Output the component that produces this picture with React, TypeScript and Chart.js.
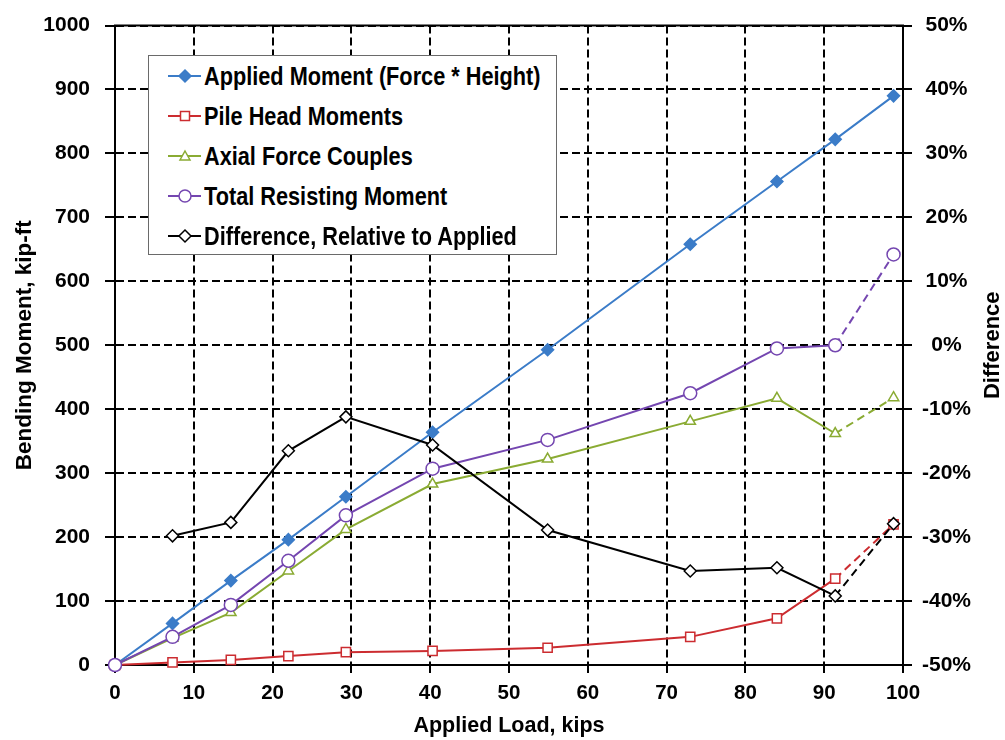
import React, { useEffect, useRef } from 'react';
import { Chart, registerables } from 'chart.js';

Chart.register(...registerables);

// ---------- data ----------
const loads = [0, 7.3, 14.7, 22.0, 29.3, 40.3, 54.9, 73.0, 84.0, 91.4, 98.8];
const appliedMoment = [0, 65, 132, 196, 263, 364, 493, 658, 756, 822, 890];
const pileHeadMoments = [0, 4, 8, 14, 20, 22, 27, 44, 73, 135, 220];
const axialForceCouples = [0, 42, 82, 147, 212, 283, 322, 381, 417, 362, 418];
const totalResisting = [0, 44, 94, 163, 234, 307, 352, 425, 495, 500, 642];
const differencePct = [null, -29.8, -27.7, -16.5, -11.2, -15.6, -28.9, -35.3, -34.8, -39.2, -27.9];

const seriesNames = [
  'Applied Moment (Force * Height)',
  'Pile Head Moments',
  'Axial Force Couples',
  'Total Resisting Moment',
  'Difference, Relative to Applied',
];
const xTitle = 'Applied Load, kips';
const yTitle = 'Bending Moment, kip-ft';
const y2Title = 'Difference';

// ---------- styles ----------
const FONT = "'Liberation Sans', Arial, sans-serif";
const seriesColors = ['#3b7cc8', '#cc2c30', '#8aab33', '#7446b0', '#000000'];
const seriesMarkers = ['rectRot', 'rect', 'triangle', 'circle', 'rectRot'];
const seriesFilled = [true, false, false, false, false];
const seriesRadius = [6, 6.5, 6, 6.5, 6];
const seriesDashedLast = [false, true, true, true, true];
const seriesAxis = ['y', 'y', 'y', 'y', 'y2'];
const seriesOrder = [5, 4, 3, 2, 1];

const seriesValues = [appliedMoment, pileHeadMoments, axialForceCouples, totalResisting, differencePct];

const framePlugin = {
  id: 'frameAndRightTitle',
  afterDraw(chart: any) {
    const { ctx, chartArea } = chart;
    ctx.save();
    ctx.strokeStyle = '#000';
    ctx.lineWidth = 2;
    ctx.beginPath();
    ctx.moveTo(chartArea.left - 1, chartArea.top);
    ctx.lineTo(chartArea.right + 1, chartArea.top);
    ctx.stroke();
    const s = chart.scales.y2;
    ctx.font = `bold 22px ${FONT}`;
    ctx.fillStyle = '#000';
    ctx.textAlign = 'center';
    ctx.textBaseline = 'middle';
    ctx.translate(s.right - 12, (chartArea.top + chartArea.bottom) / 2);
    ctx.rotate(-Math.PI / 2);
    ctx.fillText(y2Title, 0, 0);
    ctx.restore();
  },
};

function LegendMarker({ i }: { i: number }) {
  const c = seriesColors[i];
  const fill = seriesFilled[i] ? c : '#fff';
  const cx = 17;
  const cy = 10;
  const m = seriesMarkers[i];
  if (m === 'rectRot') {
    const r = seriesRadius[i];
    return <polygon points={`${cx},${cy - r} ${cx + r},${cy} ${cx},${cy + r} ${cx - r},${cy}`} fill={fill} stroke={c} strokeWidth={1.5} />;
  }
  if (m === 'rect') {
    return <rect x={cx - 4.5} y={cy - 4.5} width={9} height={9} fill={fill} stroke={c} strokeWidth={1.5} />;
  }
  if (m === 'triangle') {
    return <polygon points={`${cx},${cy - 5} ${cx + 5},${cy + 4} ${cx - 5},${cy + 4}`} fill={fill} stroke={c} strokeWidth={1.5} />;
  }
  return <circle cx={cx} cy={cy} r={6} fill={fill} stroke={c} strokeWidth={1.5} />;
}

function Legend() {
  return (
    <div
      style={{
        position: 'absolute',
        left: 148,
        top: 55,
        width: 407,
        height: 198,
        border: '1.5px solid #6a6a6a',
        background: '#fff',
        boxSizing: 'content-box',
      }}
    >
      {seriesNames.map((name, i) => (
        <div
          key={name}
          style={{
            position: 'absolute',
            left: 0,
            top: i * 40,
            height: 40,
            display: 'flex',
            alignItems: 'center',
            whiteSpace: 'nowrap',
          }}
        >
          <svg width={36} height={20} style={{ marginLeft: 19, display: 'block' }}>
            <line x1={0} y1={10} x2={33} y2={10} stroke={seriesColors[i]} strokeWidth={2} />
            <LegendMarker i={i} />
          </svg>
          <span
            style={{
              fontFamily: FONT,
              fontWeight: 'bold',
              fontSize: 26,
              color: '#000',
              lineHeight: '40px',
              display: 'inline-block',
              transform: 'scaleX(0.835)',
              transformOrigin: 'left center',
            }}
          >
            {name}
          </span>
        </div>
      ))}
    </div>
  );
}

export default function App() {
  const canvasRef = useRef<HTMLCanvasElement | null>(null);

  useEffect(() => {
    if (!canvasRef.current) return;
    const datasets = seriesNames.map((name, i) => {
      const vals = seriesValues[i];
      const last = vals.length - 1;
      return {
        label: name,
        data: loads.map((x, k) => ({ x, y: vals[k] })),
        yAxisID: seriesAxis[i],
        order: seriesOrder[i],
        borderColor: seriesColors[i],
        backgroundColor: seriesFilled[i] ? seriesColors[i] : '#ffffff',
        borderWidth: 2,
        pointStyle: seriesMarkers[i],
        pointRadius: seriesRadius[i],
        pointBorderWidth: 1.5,
        pointBorderColor: seriesColors[i],
        pointBackgroundColor: seriesFilled[i] ? seriesColors[i] : '#ffffff',
        tension: 0,
        fill: false,
        clip: false as any,
        spanGaps: false,
        segment: {
          borderDash: (ctx: any) => (seriesDashedLast[i] && ctx.p1DataIndex === last ? [8, 5] : undefined),
        },
      };
    });

    const tickFont = { family: FONT, weight: 'bold' as const, size: 21, lineHeight: 1 };
    const gridCommon = {
      color: '#000',
      lineWidth: 2,
      tickColor: '#000',
      tickWidth: 2,
    };

    const chart = new Chart(canvasRef.current, {
      type: 'line',
      data: { datasets: datasets as any },
      plugins: [framePlugin],
      options: {
        animation: false,
        responsive: true,
        maintainAspectRatio: false,
        events: [],
        layout: { padding: { top: 25, left: 0, right: 0, bottom: 0 } },
        plugins: {
          legend: { display: false },
          tooltip: { enabled: false },
        },
        scales: {
          x: {
            type: 'linear',
            position: 'bottom',
            min: 0,
            max: 100,
            ticks: {
              stepSize: 10,
              color: '#000',
              padding: 10,
              font: { ...tickFont, size: 20.5 },
              maxRotation: 0,
              callback: (v: any) => String(v),
            },
            grid: { ...gridCommon, tickLength: 8 },
            border: { display: true, color: '#000', width: 2, dash: [8, 4] },
            title: {
              display: true,
              text: xTitle,
              color: '#000',
              font: { family: FONT, weight: 'bold', size: 21.5, lineHeight: 1 },
              padding: { top: 0, bottom: 3 },
            },
            afterFit: (s: any) => {
              s.height = 75;
            },
          },
          y: {
            type: 'linear',
            position: 'left',
            min: 0,
            max: 1000,
            ticks: { stepSize: 100, color: '#000', padding: 15, font: tickFont, callback: (v: any) => String(v) },
            grid: { ...gridCommon, tickLength: 10 },
            border: { display: true, color: '#000', width: 2, dash: [8, 4] },
            title: {
              display: true,
              text: yTitle,
              color: '#000',
              font: { family: FONT, weight: 'bold', size: 22.5, lineHeight: 1 },
              padding: { top: 14, bottom: 0 },
            },
            afterFit: (s: any) => {
              s.width = 115;
            },
          },
          y2: {
            type: 'linear',
            position: 'right',
            min: -50,
            max: 50,
            ticks: {
              stepSize: 10,
              color: '#000',
              padding: 10,
              crossAlign: 'center',
              font: tickFont,
              callback: (v: any) => `${v}%`,
            },
            grid: { ...gridCommon, drawOnChartArea: false, tickLength: 9 },
            border: { display: true, color: '#000', width: 2 },
            afterFit: (s: any) => {
              s.width = 102;
            },
          },
        },
      } as any,
    });

    return () => chart.destroy();
  }, []);

  return (
    <div style={{ position: 'absolute', left: 0, top: 0, width: 1005, height: 740, background: '#fff' }}>
      <canvas ref={canvasRef} />
      <Legend />
    </div>
  );
}
